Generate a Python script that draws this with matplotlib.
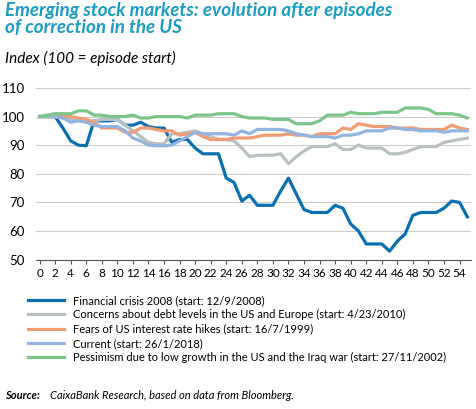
import matplotlib.pyplot as plt
import numpy as np

plt.rcParams['font.family'] = ['Lato', 'DejaVu Sans']

days = np.arange(56)
crisis_2008 = [100, 100, 100, 96, 91.5, 90, 89.8, 98.5, 98.5, 98.5, 99, 97, 97, 98, 96.5, 96, 96, 91, 92, 92,
               89, 87, 87, 87, 78.5, 77, 70.5, 72.5, 69, 69, 69, 74, 78.5, 73, 67.5, 66.5, 66.5, 66.5, 69, 68,
               62.5, 60, 55.5, 55.5, 55.5, 53, 56.5, 59, 65.5, 66.5, 66.5, 66.5, 68, 70.5, 70, 65]
debt_2010 = [100, 100, 100, 99.5, 99, 98.5, 98.5, 98.5, 99, 99, 99, 97, 95, 93, 91, 90.5, 90.5, 94, 94, 94.5,
             95, 94, 93, 92, 92, 91.5, 89, 86, 86.5, 86.5, 86.5, 87, 83.5, 86, 88, 89.5, 89.5, 89.5, 90.5, 88.5,
             88.5, 90, 89, 89, 89, 87, 87, 87.5, 88.5, 89.5, 89.5, 89.5, 91, 91.5, 92, 92.5]
rates_1999 = [100, 100, 100, 100, 100, 99.5, 99, 98, 96, 96, 96, 94.5, 94.5, 96, 96, 95.5, 95, 95, 93.5, 94,
              94.5, 93, 92, 92, 92, 92.5, 92.5, 92.5, 93, 93.5, 93.5, 93.5, 94, 93.5, 93.5, 93, 94, 94, 94, 96,
              95.5, 97.5, 97, 96.5, 96.5, 96.5, 96, 96, 96, 95.5, 95.5, 95.5, 95.5, 97, 96, 95.5]
current_2018 = [100, 100, 100, 99.5, 98, 98.5, 98, 97, 96.5, 96.5, 96.5, 95, 92.5, 91.5, 90, 89.8, 89.8, 90,
                91.5, 93, 94.5, 94, 94, 94, 94, 93.5, 95, 94, 95.5, 95.5, 95.5, 95.5, 95, 94, 93.5, 93, 93, 93,
                92.5, 93.5, 93.5, 94, 95, 95, 95, 96, 96, 95.5, 95.5, 95, 95, 95, 94.5, 95, 95, 95]
iraq_2002 = [100, 100.5, 101, 101, 101, 102, 102, 100.5, 100.5, 100, 100, 100, 100.5, 99.5, 99.5, 100, 100, 100,
             100, 99.5, 100.5, 100.5, 100.5, 101, 101, 101, 100, 99.5, 99.5, 99.5, 99, 99, 99, 97.5, 97.5, 97.5,
             98.5, 100.5, 100.5, 100.5, 101.5, 101, 101, 101, 101.5, 101.5, 101.5, 103, 103, 103, 102.5, 101, 101,
             101, 100.5, 99.5]

series = [
    (crisis_2008, '#0a6fb0', 'Financial crisis 2008 (start: 12/9/2008)'),
    (debt_2010, '#b8c0c2', 'Concerns about debt levels in the US and Europe (start: 4/23/2010)'),
    (rates_1999, '#f19c72', 'Fears of US interest rate hikes (start: 16/7/1999)'),
    (current_2018, '#94b4e0', 'Current (start: 26/1/2018)'),
    (iraq_2002, '#7cc58a', 'Pessimism due to low growth in the US and the Iraq war (start: 27/11/2002)'),
]

fig = plt.figure(figsize=(4.76, 4.09), dpi=100)
ax = fig.add_axes([0.075, 0.365, 0.915, 0.42])

lines = []
for vals, col, lab in series:
    ln, = ax.plot(days, vals, color=col, lw=2.3, label=lab)
    lines.append(ln)

ax.set_xlim(-0.5, 55.5)
ax.set_ylim(50, 110)
ax.set_yticks(range(50, 111, 10))
ax.set_xticks(range(0, 55, 2))
ax.tick_params(axis='x', length=3, labelsize=8.5, color='#555555', pad=3)
ax.tick_params(axis='y', length=0, labelsize=9.5, pad=8)
ax.yaxis.grid(True, color='#cccccc', lw=0.8)
ax.set_axisbelow(True)
for s in ['top', 'right', 'left']:
    ax.spines[s].set_visible(False)
ax.spines['bottom'].set_color('#555555')

fig.text(0.01, 0.995, 'Emerging stock markets: evolution after episodes\nof correction in the US',
         color='#1a9cc4', fontsize=13.5, fontweight='bold', style='italic', va='top', linespacing=1.0)
fig.text(0.01, 0.875, 'Index (100 = episode start)', fontsize=11, style='italic', va='top')

fig.legend(handles=lines, loc='upper left', bbox_to_anchor=(0.05, 0.29), frameon=False,
           fontsize=8, handlelength=3.2, labelspacing=0.3, borderaxespad=0)

fig.text(0.01, 0.025, 'Source:', fontsize=8, style='italic', fontweight='bold')
fig.text(0.105, 0.025, 'CaixaBank Research, based on data from Bloomberg.', fontsize=8, style='italic')

fig.savefig('out.png', dpi=100)
